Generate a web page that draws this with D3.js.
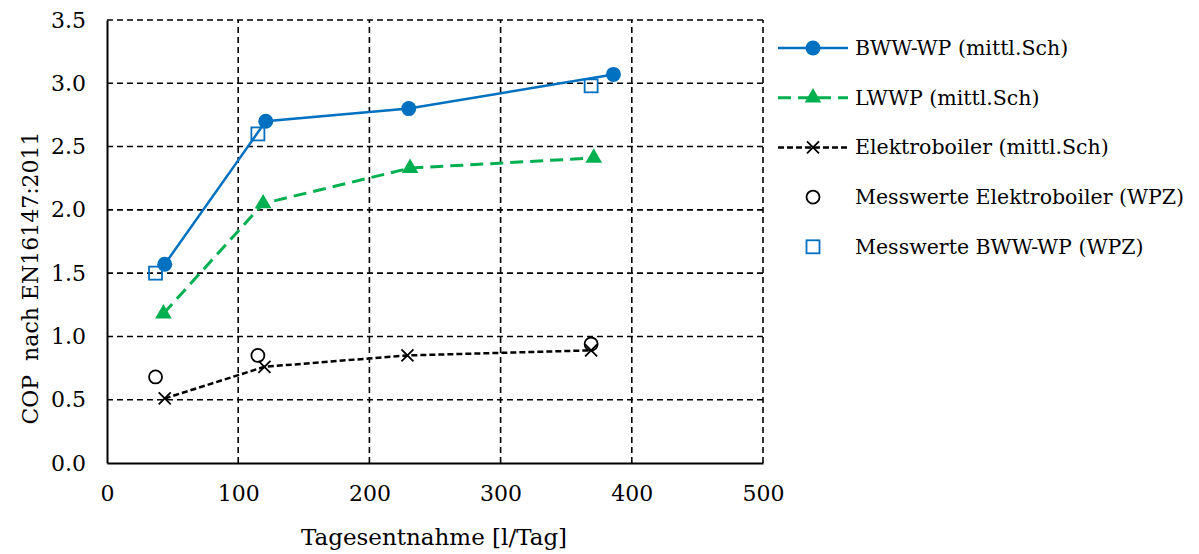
<!DOCTYPE html>
<html lang="de">
<head>
<meta charset="UTF-8" />
<title>COP nach EN16147:2011</title>
<script src="https://d3js.org/d3.v7.min.js"></script>
<style>
  body { margin: 0; background: #fff; }
  svg text { font-family: "DejaVu Serif", serif; fill: #000; }
</style>
</head>
<body>
<svg id="chart" width="1199" height="554"></svg>
<script>
// data
const xTicks = [0, 100, 200, 300, 400, 500];
const yTicks = [0, 0.5, 1, 1.5, 2, 2.5, 3, 3.5];

const bwwX = [44, 121, 230, 386];
const bwwY = [1.57, 2.70, 2.80, 3.07];

const lwwpX = [43, 119, 231, 371];
const lwwpY = [1.18, 2.05, 2.33, 2.41];

const eboilerX = [44, 120, 229, 369];
const eboilerY = [0.51, 0.76, 0.85, 0.89];

const messEbX = [37, 115, 369];
const messEbY = [0.68, 0.85, 0.94];

const messBwwX = [37, 115, 369];
const messBwwY = [1.50, 2.60, 2.98];

const legendLabels = [
  "BWW-WP (mittl.Sch)",
  "LWWP (mittl.Sch)",
  "Elektroboiler (mittl.Sch)",
  "Messwerte Elektroboiler (WPZ)",
  "Messwerte BWW-WP (WPZ)"
];

const BLUE = "#0070C0";
const GREEN = "#00B050";

const svg = d3.select("#chart");
const margin = { left: 107, right: 436, top: 20, bottom: 91 };
const W = 1199, H = 554;

const x = d3.scaleLinear().domain([0, 500]).range([margin.left, W - margin.right]);
const y = d3.scaleLinear().domain([0, 3.5]).range([H - margin.bottom, margin.top]);

// grid
const grid = svg.append("g");
grid.selectAll(".hgrid")
  .data(yTicks.filter(d => d > 0))
  .enter().append("line")
  .attr("x1", x(0)).attr("x2", x(500))
  .attr("y1", d => y(d)).attr("y2", d => y(d))
  .attr("stroke", "#000").attr("stroke-width", 1.6)
  .attr("stroke-dasharray", "6,4");
grid.selectAll(".vgrid")
  .data(xTicks.filter(d => d > 0))
  .enter().append("line")
  .attr("x1", d => x(d)).attr("x2", d => x(d))
  .attr("y1", y(0)).attr("y2", y(3.5))
  .attr("stroke", "#000").attr("stroke-width", 1.6)
  .attr("stroke-dasharray", "6,4");

// axes
const xAxis = svg.append("g")
  .attr("transform", `translate(0,${y(0)})`)
  .call(d3.axisBottom(x).tickValues(xTicks).tickSize(0).tickPadding(22).tickFormat(d3.format("d")));
const yAxis = svg.append("g")
  .attr("transform", `translate(${x(0)},0)`)
  .call(d3.axisLeft(y).tickValues(yTicks).tickSize(0).tickPadding(21).tickFormat(d3.format(".1f")));
[xAxis, yAxis].forEach(a => {
  a.select(".domain").attr("stroke", "#000").attr("stroke-width", 2);
  a.selectAll("text").attr("font-size", 22).style("font-family", "DejaVu Serif, serif");
});

// axis titles
svg.append("text")
  .attr("x", 434).attr("y", 545)
  .attr("text-anchor", "middle").attr("font-size", 23)
  .text("Tagesentnahme [l/Tag]");
svg.append("text")
  .attr("transform", `translate(38,${278}) rotate(-90)`)
  .attr("text-anchor", "middle").attr("font-size", 22)
  .style("white-space", "pre")
  .text("COP  nach EN16147:2011");

const line = d3.line().x(d => x(d[0])).y(d => y(d[1]));
const zip = (a, b) => a.map((v, i) => [v, b[i]]);

const bww = zip(bwwX, bwwY);
const lwwp = zip(lwwpX, lwwpY);
const eb = zip(eboilerX, eboilerY);
const messEb = zip(messEbX, messEbY);
const messBww = zip(messBwwX, messBwwY);

const plot = svg.append("g");

// series lines
plot.append("path").datum(bww).attr("d", line)
  .attr("fill", "none").attr("stroke", BLUE).attr("stroke-width", 2.5);
plot.append("path").datum(lwwp).attr("d", line)
  .attr("fill", "none").attr("stroke", GREEN).attr("stroke-width", 3)
  .attr("stroke-dasharray", "13,7");
plot.append("path").datum(eb).attr("d", line)
  .attr("fill", "none").attr("stroke", "#000").attr("stroke-width", 2.5)
  .attr("stroke-dasharray", "6,3");

// marker helpers
function circleMark(g, cx, cy) {
  g.append("circle").attr("cx", cx).attr("cy", cy).attr("r", 7.5).attr("fill", BLUE);
}
function triMark(g, cx, cy) {
  g.append("path").attr("d", d3.symbol().type(d3.symbolTriangle).size(120)())
    .attr("transform", `translate(${cx},${cy})`).attr("fill", GREEN);
}
function crossMark(g, cx, cy) {
  const s = 6;
  g.append("path")
    .attr("d", `M${cx - s},${cy - s}L${cx + s},${cy + s}M${cx - s},${cy + s}L${cx + s},${cy - s}`)
    .attr("stroke", "#000").attr("stroke-width", 1.8);
}
function ringMark(g, cx, cy) {
  g.append("circle").attr("cx", cx).attr("cy", cy).attr("r", 6.5)
    .attr("fill", "none").attr("stroke", "#000").attr("stroke-width", 1.8);
}
function squareMark(g, cx, cy) {
  g.append("rect").attr("x", cx - 6.5).attr("y", cy - 6.5).attr("width", 13).attr("height", 13)
    .attr("fill", "none").attr("stroke", BLUE).attr("stroke-width", 1.8);
}

messBww.forEach(d => squareMark(plot, x(d[0]), y(d[1])));
messEb.forEach(d => ringMark(plot, x(d[0]), y(d[1])));
bww.forEach(d => circleMark(plot, x(d[0]), y(d[1])));
lwwp.forEach(d => triMark(plot, x(d[0]), y(d[1])));
eb.forEach(d => crossMark(plot, x(d[0]), y(d[1])));

// legend
const legend = svg.append("g");
const lx0 = 778, lx1 = 848, lmid = 813, ltext = 855;
const rowY = i => 48 + i * 49.7;
const markers = [circleMark, triMark, crossMark, ringMark, squareMark];
const lineStyles = [
  { stroke: BLUE, w: 2.5, dash: null },
  { stroke: GREEN, w: 3, dash: "13,7" },
  { stroke: "#000", w: 2.5, dash: "6,3" },
  null, null
];
legendLabels.forEach((lab, i) => {
  const ly = rowY(i);
  const st = lineStyles[i];
  if (st) {
    legend.append("line").attr("x1", lx0).attr("x2", lx1).attr("y1", ly).attr("y2", ly)
      .attr("stroke", st.stroke).attr("stroke-width", st.w)
      .attr("stroke-dasharray", st.dash);
  }
  markers[i](legend, lmid, ly);
  legend.append("text").attr("x", ltext).attr("y", ly + 7)
    .attr("font-size", 20.5).text(lab);
});
</script>
</body>
</html>
